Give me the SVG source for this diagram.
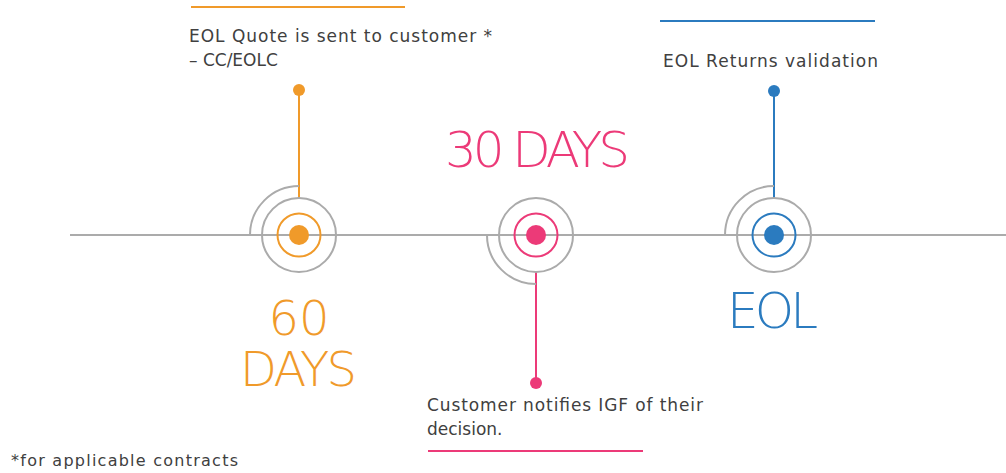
<svg xmlns="http://www.w3.org/2000/svg" width="1006" height="473" viewBox="0 0 1006 473">
<style>
.t{font-family:"DejaVu Sans","Liberation Sans",sans-serif;font-size:17px;fill:#404040}
.big{font-family:"DejaVu Sans","Liberation Sans",sans-serif;font-weight:200;font-size:50px}
.g{fill:none;stroke:#ababab;stroke-width:2}
</style>
<rect width="1006" height="473" fill="#fff"/>
<g id="connectors">
<line x1="70" y1="235" x2="1006" y2="235" stroke="#ababab" stroke-width="2"/>
<line x1="299" y1="90" x2="299" y2="199" stroke="#F09A2A" stroke-width="2"/>
<line x1="536" y1="272" x2="536" y2="383" stroke="#EC3A78" stroke-width="2"/>
<line x1="774" y1="91" x2="774" y2="198" stroke="#2B7BBF" stroke-width="2"/>
</g>
<g id="node60">
<line x1="191" y1="7" x2="405" y2="7" stroke="#F09A2A" stroke-width="2"/>
<text class="t" x="189" y="42" textLength="303">EOL Quote is sent to customer *</text>
<text class="t" x="189" y="66">– CC/EOLC</text>
<circle cx="299" cy="90" r="6" fill="#F09A2A"/>
<path class="g" d="M250,235 A49,49 0 0 1 299,186"/>
<circle class="g" cx="299" cy="235" r="37"/>
<circle cx="299" cy="235" r="21.5" fill="none" stroke="#F09A2A" stroke-width="2"/>
<circle cx="299" cy="235" r="10" fill="#F09A2A"/>
<text class="big" x="299" y="335" text-anchor="middle" fill="#F09A2A" style="font-size:48px">60</text>
<text class="big" x="240" y="386" fill="#F09A2A" style="font-size:48px" textLength="117">DAYS</text>
</g>
<g id="node30">
<text class="big" x="445" y="167" fill="#EC3A78" textLength="185">30 DAYS</text>
<path class="g" d="M487,235 A49,49 0 0 0 536,284"/>
<circle class="g" cx="536" cy="235" r="37"/>
<circle cx="536" cy="235" r="21.5" fill="none" stroke="#EC3A78" stroke-width="2"/>
<circle cx="536" cy="235" r="10" fill="#EC3A78"/>
<circle cx="536" cy="383" r="6" fill="#EC3A78"/>
<text class="t" x="427" y="411" textLength="276">Customer notifies IGF of their</text>
<text class="t" x="427" y="435">decision.</text>
<line x1="428" y1="451" x2="643" y2="451" stroke="#EC3A78" stroke-width="2"/>
</g>
<g id="nodeEOL">
<line x1="660" y1="21" x2="875" y2="21" stroke="#2B7BBF" stroke-width="2"/>
<text class="t" x="663" y="67" textLength="215">EOL Returns validation</text>
<circle cx="774" cy="91" r="6" fill="#2B7BBF"/>
<path class="g" d="M725,235 A49,49 0 0 1 774,186"/>
<circle class="g" cx="774" cy="235" r="37"/>
<circle cx="774" cy="235" r="21.5" fill="none" stroke="#2B7BBF" stroke-width="2"/>
<circle cx="774" cy="235" r="10" fill="#2B7BBF"/>
<text class="big" x="727" y="328" fill="#2B7BBF" textLength="91">EOL</text>
</g>
<g id="footnote">
<text class="t" x="11" y="466" style="font-size:16px" textLength="227">*for applicable contracts</text>
</g>
</svg>
